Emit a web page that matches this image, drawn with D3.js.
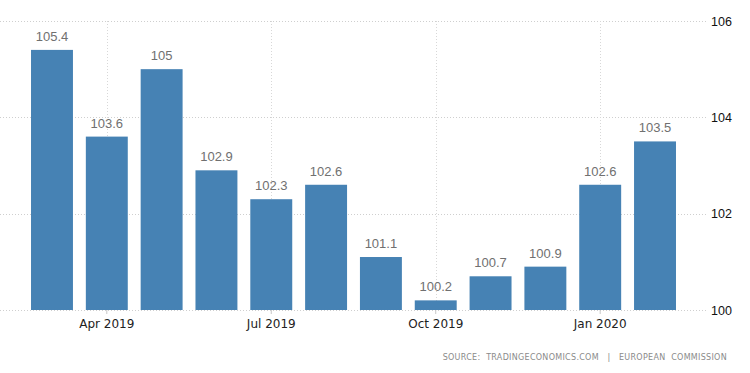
<!DOCTYPE html>
<html><head><meta charset="utf-8">
<script src="https://cdn.jsdelivr.net/npm/d3@7"></script>
<style>body{margin:0;background:#fff;}svg{display:block;}</style>
</head><body>
<svg id="c" width="750" height="373"></svg>
<script>
const months = ["2019-03","2019-04","2019-05","2019-06","2019-07","2019-08","2019-09","2019-10","2019-11","2019-12","2020-01","2020-02"];
const values = [105.4,103.6,105,102.9,102.3,102.6,101.1,100.2,100.7,100.9,102.6,103.5];
const valueLabels = ["105.4","103.6","105","102.9","102.3","102.6","101.1","100.2","100.7","100.9","102.6","103.5"];
const xTickMonths = ["2019-04","2019-07","2019-10","2020-01"];
const xTickLabels = ["Apr 2019","Jul 2019","Oct 2019","Jan 2020"];
const yTicks = [100,102,104,106];

const svg = d3.select("#c");
const x = d3.scaleBand().domain(months).range([24.6, 682.4]).paddingInner(0.235).paddingOuter(0.117);
const y = d3.scaleLinear().domain([100,106]).range([310,21]);

// horizontal grid
svg.append("g").selectAll("line").data(yTicks).join("line")
  .attr("x1",0).attr("x2",708).attr("y1",d=>Math.round(y(d))+0.5).attr("y2",d=>Math.round(y(d))+0.5)
  .attr("stroke","#cfcfcf").attr("stroke-dasharray","1,2").attr("stroke-width",1);
// vertical grid
svg.append("g").selectAll("line").data(xTickMonths).join("line")
  .attr("x1",d=>Math.round(x(d)+x.bandwidth()/2)+0.5).attr("x2",d=>Math.round(x(d)+x.bandwidth()/2)+0.5)
  .attr("y1",21).attr("y2",310)
  .attr("stroke","#d8d8d8").attr("stroke-dasharray","1,2").attr("stroke-width",1);

// bars
svg.append("g").selectAll("rect").data(months).join("rect")
  .attr("x",d=>x(d)).attr("width",x.bandwidth())
  .attr("y",(d,i)=>y(values[i])).attr("height",(d,i)=>y(100)-y(values[i]))
  .attr("fill","#4682b4");

// value labels
svg.append("g").selectAll("text").data(months).join("text")
  .attr("x",d=>x(d)+x.bandwidth()/2).attr("y",(d,i)=>y(values[i])-9)
  .attr("text-anchor","middle").attr("font-family","Liberation Sans, Arial, sans-serif")
  .attr("font-size",13).attr("fill","#707070").text((d,i)=>valueLabels[i]);

// x axis
const xAxis = d3.axisBottom(x).tickValues(xTickMonths).tickSize(4).tickPadding(5)
  .tickFormat((d,i)=>xTickLabels[xTickMonths.indexOf(d)]);
const gx = svg.append("g").attr("transform","translate(0,310)").call(xAxis);
gx.select(".domain").remove();
gx.selectAll("line").attr("stroke","#c8c8c8");
gx.selectAll("text").attr("font-family","DejaVu Sans, sans-serif").attr("font-size",12).attr("fill","#222");

// y axis right
const yAxis = d3.axisRight(y).tickValues(yTicks).tickSize(0).tickPadding(0).tickFormat(d3.format("d"));
const gy = svg.append("g").attr("transform","translate(711,0)").call(yAxis);
gy.select(".domain").remove();
gy.selectAll("text").attr("font-family","Liberation Sans, Arial, sans-serif").attr("font-size",12.5).attr("fill","#111");

// source
svg.append("text").attr("x",727).attr("y",360).attr("text-anchor","end")
  .style("white-space","pre")
  .attr("font-family","DejaVu Sans, sans-serif").attr("font-size",8).attr("letter-spacing",0.3)
  .attr("fill","#8a8a8a").text("SOURCE:  TRADINGECONOMICS.COM   |   EUROPEAN  COMMISSION");
</script>
</body></html>
